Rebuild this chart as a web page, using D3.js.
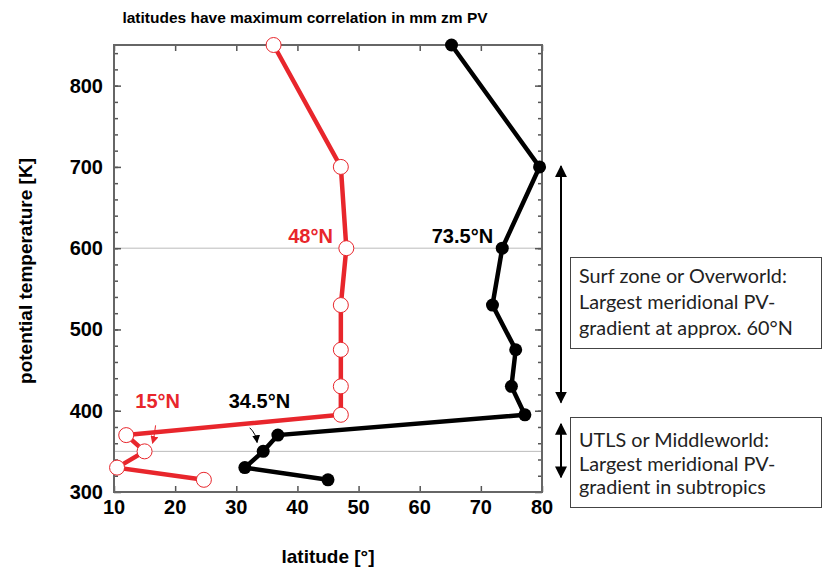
<html>

<head>
    <script src="https://d3js.org/d3.v7.min.js"></script>
    <style>
        body { margin: 0; background: white; }
    </style>
</head>

<body>
    <div id="vis"></div>
</body>

<script>

    // Data
    var theta = [850, 700, 600, 530, 475, 430, 395, 370, 350, 330, 315];
    var latRed = [36.1, 47.1, 48, 47.1, 47.1, 47.1, 47.1, 12, 15, 10.5, 24.7];
    var latBlack = [65.2, 79.6, 73.5, 71.9, 75.7, 75.0, 77.2, 36.8, 34.4, 31.4, 45.0];
    var xTicks = [10, 20, 30, 40, 50, 60, 70, 80];
    var yTicks = [300, 400, 500, 600, 700, 800];
    var refLines = [600, 350];

    var margin = { top: 45, right: 281, bottom: 79, left: 114 },
        width = 823 - margin.left - margin.right,
        height = 571 - margin.top - margin.bottom;

    var svg = d3.select("#vis")
        .append("svg")
        .attr("width", 823)
        .attr("height", 571);

    var g = svg.append("g")
        .attr("transform", "translate(" + margin.left + "," + margin.top + ")");

    var x = d3.scaleLinear().domain([10, 80]).range([0, width]);
    var y = d3.scaleLinear().domain([300, 850]).range([height, 0]);

    // Title
    svg.append("text")
        .attr("x", 305)
        .attr("y", 23)
        .attr("text-anchor", "middle")
        .style("font-family", "Liberation Sans, Arial")
        .style("font-weight", "bold")
        .style("font-size", "15.5px")
        .text("latitudes have maximum correlation in mm zm PV");

    // reference lines
    g.selectAll(".ref")
        .data(refLines)
        .enter()
        .append("line")
        .attr("x1", 0).attr("x2", width)
        .attr("y1", function (d) { return y(d); })
        .attr("y2", function (d) { return y(d); })
        .style("stroke", "#bbb")
        .style("stroke-width", 1);

    // axes with inward ticks on all sides
    var minorY = d3.range(320, 850, 20);
    var tickColor = "#555";

    function axisStyle(sel) {
        sel.select(".domain").remove();
        sel.selectAll(".tick line").style("stroke", tickColor).style("stroke-width", 1.5);
        sel.selectAll("text").remove();
    }

    g.append("g").call(d3.axisLeft(y).tickValues(minorY).tickSize(-4)).call(axisStyle);
    g.append("g").call(d3.axisLeft(y).tickValues(yTicks).tickSize(-7)).call(axisStyle);
    g.append("g").attr("transform", "translate(" + width + ",0)")
        .call(d3.axisRight(y).tickValues(minorY).tickSize(-4)).call(axisStyle);
    g.append("g").attr("transform", "translate(" + width + ",0)")
        .call(d3.axisRight(y).tickValues(yTicks).tickSize(-7)).call(axisStyle);
    g.append("g").attr("transform", "translate(0," + height + ")")
        .call(d3.axisBottom(x).tickValues(xTicks).tickSize(-6)).call(axisStyle);
    g.append("g")
        .call(d3.axisTop(x).tickValues(xTicks).tickSize(-6)).call(axisStyle);

    // tick labels
    var labelFont = "Liberation Sans, Arial";
    g.selectAll(".ylab")
        .data(yTicks)
        .enter()
        .append("text")
        .attr("x", -11)
        .attr("y", function (d) { return y(d) + 7; })
        .attr("text-anchor", "end")
        .style("font-family", labelFont)
        .style("font-weight", "bold")
        .style("font-size", "20px")
        .text(function (d) { return d; });

    g.selectAll(".xlab")
        .data(xTicks)
        .enter()
        .append("text")
        .attr("x", function (d) { return x(d); })
        .attr("y", height + 22)
        .attr("text-anchor", "middle")
        .style("font-family", labelFont)
        .style("font-weight", "bold")
        .style("font-size", "20px")
        .text(function (d) { return d; });

    // frame
    g.append("rect")
        .attr("width", width)
        .attr("height", height)
        .style("fill", "none")
        .style("stroke", "#666")
        .style("stroke-width", 2);

    // axis titles
    svg.append("text")
        .attr("x", 328)
        .attr("y", 563)
        .attr("text-anchor", "middle")
        .style("font-family", labelFont)
        .style("font-weight", "bold")
        .style("font-size", "19px")
        .text("latitude [°]");

    svg.append("text")
        .attr("transform", "translate(32,271) rotate(-90)")
        .attr("text-anchor", "middle")
        .style("font-family", labelFont)
        .style("font-weight", "bold")
        .style("font-size", "19px")
        .text("potential temperature [K]");

    // lines
    var redData = theta.map(function (t, i) { return { t: t, lat: latRed[i] }; });
    var blackData = theta.map(function (t, i) { return { t: t, lat: latBlack[i] }; });

    var line = d3.line()
        .x(function (d) { return x(d.lat); })
        .y(function (d) { return y(d.t); });

    var red = "#e8262c";

    g.append("path")
        .datum(redData)
        .attr("d", line)
        .style("fill", "none")
        .style("stroke", red)
        .style("stroke-width", 4.5);

    g.append("path")
        .datum(blackData)
        .attr("d", line)
        .style("fill", "none")
        .style("stroke", "black")
        .style("stroke-width", 4.5);

    g.selectAll(".rdot")
        .data(redData)
        .enter()
        .append("circle")
        .attr("cx", function (d) { return x(d.lat); })
        .attr("cy", function (d) { return y(d.t); })
        .attr("r", 7.5)
        .style("fill", "white")
        .style("stroke", red)
        .style("stroke-width", 1);

    g.selectAll(".bdot")
        .data(blackData)
        .enter()
        .append("circle")
        .attr("cx", function (d) { return x(d.lat); })
        .attr("cy", function (d) { return y(d.t); })
        .attr("r", 6.5)
        .style("fill", "black");

    // labels on the curves
    function label(txt, lat, t, color) {
        g.append("text")
            .attr("x", x(lat))
            .attr("y", y(t))
            .attr("text-anchor", "end")
            .style("font-family", labelFont)
            .style("font-weight", "bold")
            .style("font-size", "20px")
            .style("fill", color)
            .text(txt);
    }
    label("48°N", 45.8, 606, red);
    label("73.5°N", 72.0, 606, "black");
    label("15°N", 20.8, 403, red);
    label("34.5°N", 38.8, 403, "black");

    // small pointer arrows
    var defs = svg.append("defs");
    function marker(id, color, size) {
        defs.append("marker")
            .attr("id", id)
            .attr("viewBox", "0 0 10 10")
            .attr("refX", 9).attr("refY", 5)
            .attr("markerWidth", size).attr("markerHeight", size)
            .attr("markerUnits", "userSpaceOnUse")
            .attr("orient", "auto-start-reverse")
            .append("path")
            .attr("d", "M0,0 L10,5 L0,10 z")
            .style("fill", color);
    }
    marker("ar", red, 8);
    marker("ab", "black", 8);
    marker("big", "black", 12);

    g.append("path")
        .attr("d", "M" + x(16.8) + "," + y(382) + " Q" + x(16.6) + "," + y(368) + " " + x(16.3) + "," + y(360))
        .style("fill", "none")
        .style("stroke", red)
        .style("stroke-width", 1)
        .attr("marker-end", "url(#ar)");

    g.append("path")
        .attr("d", "M" + x(32.2) + "," + y(379) + " Q" + x(33.2) + "," + y(372) + " " + x(33.4) + "," + y(361))
        .style("fill", "none")
        .style("stroke", "black")
        .style("stroke-width", 1)
        .attr("marker-end", "url(#ab)");

    // range arrows on the right
    var arrowX = 561 - margin.left;
    [[702, 409], [385, 317]].forEach(function (r) {
        g.append("line")
            .attr("x1", arrowX).attr("x2", arrowX)
            .attr("y1", y(r[0]) + 1).attr("y2", y(r[1]) - 1)
            .style("stroke", "black")
            .style("stroke-width", 2)
            .attr("marker-start", "url(#big)")
            .attr("marker-end", "url(#big)");
    });

    // text boxes
    var boxes = [
        { y: 257, h: 91, base: 283, step: 26, lines: ["Surf zone or Overworld:", "Largest meridional PV-", "gradient at approx. 60°N"] },
        { y: 417, h: 90, base: 447, step: 23.5, lines: ["UTLS or Middleworld:", "Largest meridional PV-", "gradient in subtropics"] }
    ];
    boxes.forEach(function (b) {
        svg.append("rect")
            .attr("x", 570.5).attr("y", b.y + 0.5)
            .attr("width", 251).attr("height", b.h)
            .style("fill", "white")
            .style("stroke", "#444")
            .style("stroke-width", 1);
        b.lines.forEach(function (l, i) {
            svg.append("text")
                .attr("x", 579)
                .attr("y", b.base + i * b.step)
                .style("font-family", "Lato, Carlito, sans-serif")
                .style("font-size", "19.8px")
                .style("fill", "#222")
                .text(l);
        });
    });

</script>

</html>
